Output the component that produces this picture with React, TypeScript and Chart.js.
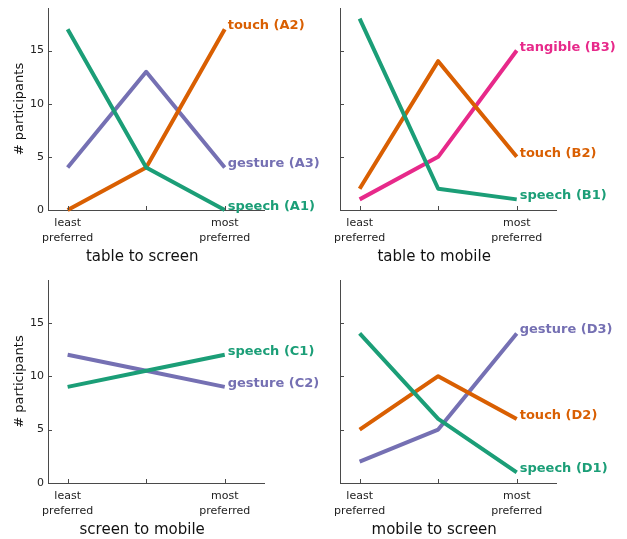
import React, { useEffect, useRef } from "react";
import { Chart, registerables } from "chart.js";

Chart.register(...registerables);

const positions = [0, 1, 2];
const tickLabels: (string | string[])[] = [["least", "preferred"], "", ["most", "preferred"]];
const yTicks = [0, 5, 10, 15];

const panelTitles = ["table to screen", "table to mobile", "screen to mobile", "mobile to screen"];

const speechA1 = [17, 4, 0];
const touchA2 = [0, 4, 17];
const gestureA3 = [4, 13, 4];

const speechB1 = [18, 2, 1];
const touchB2 = [2, 14, 5];
const tangibleB3 = [1, 5, 15];

const speechC1 = [9, 10.5, 12];
const gestureC2 = [12, 10.5, 9];

const speechD1 = [14, 6, 1];
const touchD2 = [5, 10, 6];
const gestureD3 = [2, 5, 14];

const GREEN = "#1b9e77";
const ORANGE = "#d95f02";
const PURPLE = "#7570b3";
const PINK = "#e7298a";
const AXIS = "#4a4a4a";
const FONT = "DejaVu Sans";

type Series = { label: string; values: number[]; color: string };

const panels: { title: string; series: Series[]; left: boolean; top: boolean }[] = [
  {
    title: panelTitles[0], left: true, top: true,
    series: [
      { label: "speech (A1)", values: speechA1, color: GREEN },
      { label: "touch (A2)", values: touchA2, color: ORANGE },
      { label: "gesture (A3)", values: gestureA3, color: PURPLE },
    ],
  },
  {
    title: panelTitles[1], left: false, top: true,
    series: [
      { label: "speech (B1)", values: speechB1, color: GREEN },
      { label: "touch (B2)", values: touchB2, color: ORANGE },
      { label: "tangible (B3)", values: tangibleB3, color: PINK },
    ],
  },
  {
    title: panelTitles[2], left: true, top: false,
    series: [
      { label: "speech (C1)", values: speechC1, color: GREEN },
      { label: "gesture (C2)", values: gestureC2, color: PURPLE },
    ],
  },
  {
    title: panelTitles[3], left: false, top: false,
    series: [
      { label: "speech (D1)", values: speechD1, color: GREEN },
      { label: "touch (D2)", values: touchD2, color: ORANGE },
      { label: "gesture (D3)", values: gestureD3, color: PURPLE },
    ],
  },
];

const decorPlugin = {
  id: "decor",
  afterDraw(chart: any) {
    const ctx = chart.ctx;
    const x = chart.scales.x;
    const y = chart.scales.y;
    const area = chart.chartArea;
    ctx.save();
    // inward tick marks
    ctx.strokeStyle = AXIS;
    ctx.lineWidth = 1;
    ctx.beginPath();
    x.ticks.forEach((t: any) => {
      const px = Math.round(x.getPixelForValue(t.value)) + 0.5;
      ctx.moveTo(px, area.bottom);
      ctx.lineTo(px, area.bottom - 4);
    });
    y.ticks.forEach((t: any) => {
      const py = Math.round(y.getPixelForValue(t.value)) + 0.5;
      ctx.moveTo(area.left, py);
      ctx.lineTo(area.left + 4, py);
    });
    ctx.stroke();
    // end-of-line labels
    ctx.font = `bold 13px "${FONT}"`;
    ctx.textAlign = "left";
    ctx.textBaseline = "alphabetic";
    chart.data.datasets.forEach((ds: any, i: number) => {
      const meta = chart.getDatasetMeta(i);
      const last = meta.data[meta.data.length - 1];
      ctx.fillStyle = ds.borderColor;
      ctx.fillText(ds.label, last.x + 3, last.y);
    });
    // x-axis title
    ctx.font = `15px "${FONT}"`;
    ctx.fillStyle = "#111";
    ctx.textAlign = "center";
    ctx.textBaseline = "middle";
    ctx.fillText(chart.options.plugins.decor.title, x.getPixelForValue(1) - 4, area.bottom + 47);
    ctx.restore();
  },
};

function zeroPadding(scale: any) {
  scale.paddingTop = 0;
  scale.paddingBottom = 0;
  scale.paddingLeft = 0;
  scale.paddingRight = 0;
}

function Panel({ idx }: { idx: number }) {
  const ref = useRef<HTMLCanvasElement | null>(null);
  const p = panels[idx];
  const cLeft = p.left ? 0 : 300;
  const cTop = p.top ? 0 : 270;
  const width = p.left ? 330 : 327;
  const height = p.top ? 270 : 269;
  const areaLeft = p.left ? 48 : 340;
  const areaRight = p.left ? 264 : 556;
  const areaTop = p.top ? 8 : 280;
  const areaBottom = p.top ? 210 : 483;

  useEffect(() => {
    if (!ref.current) return;
    const chart = new Chart(ref.current, {
      type: "line",
      data: {
        datasets: p.series.map((s) => ({
          label: s.label,
          data: s.values.map((v, i) => ({ x: positions[i], y: v })),
          borderColor: s.color,
          backgroundColor: s.color,
          borderWidth: 4,
          pointRadius: 0,
          tension: 0,
          clip: false as any,
          borderCapStyle: "butt",
          borderJoinStyle: "round",
        })),
      },
      options: {
        animation: false,
        responsive: false,
        events: [],
        layout: {
          padding: {
            left: 0,
            top: areaTop - cTop,
            right: width - (areaRight - cLeft),
            bottom: 0,
          },
        },
        plugins: {
          legend: { display: false },
          tooltip: { enabled: false },
          decor: { title: p.title },
        } as any,
        scales: {
          x: {
            type: "linear",
            min: -0.25,
            max: 2.5,
            afterBuildTicks: (scale: any) => {
              scale.ticks = positions.map((v) => ({ value: v }));
            },
            afterFit: (scale: any) => {
              scale.height = height - (areaBottom - cTop);
              zeroPadding(scale);
            },
            grid: { display: false, drawTicks: false },
            border: { display: true, color: AXIS, width: 1 },
            ticks: {
              padding: 6,
              maxRotation: 0,
              autoSkip: false,
              color: "#222",
              font: { family: FONT, size: 11, lineHeight: 1.36 },
              callback: (value: any) => tickLabels[Math.round(Number(value))] ?? "",
            },
          },
          y: {
            type: "linear",
            min: 0,
            max: 19,
            afterBuildTicks: (scale: any) => {
              scale.ticks = yTicks.map((v) => ({ value: v }));
            },
            afterFit: (scale: any) => {
              scale.width = areaLeft - cLeft;
              zeroPadding(scale);
            },
            grid: { display: false, drawTicks: false },
            border: { display: true, color: AXIS, width: 1 },
            ticks: {
              padding: 4,
              color: "#222",
              font: { family: FONT, size: 11 },
              callback: (value: any) => (p.left ? String(value) : ""),
            },
            title: {
              display: p.left,
              text: "# participants",
              color: "#111",
              font: { family: FONT, size: 13, lineHeight: 1.2 },
              padding: { top: 12, bottom: 0 },
            },
          },
        },
      },
      plugins: [decorPlugin],
    } as any);
    return () => chart.destroy();
  }, []);

  return (
    <canvas
      ref={ref}
      width={width}
      height={height}
      style={{ position: "absolute", left: cLeft, top: cTop, width, height }}
    />
  );
}

export default function App() {
  return (
    <div style={{ position: "absolute", left: 0, top: 0, width: 627, height: 539, background: "#fff", overflow: "hidden" }}>
      {panels.map((_, i) => (
        <Panel key={i} idx={i} />
      ))}
    </div>
  );
}
